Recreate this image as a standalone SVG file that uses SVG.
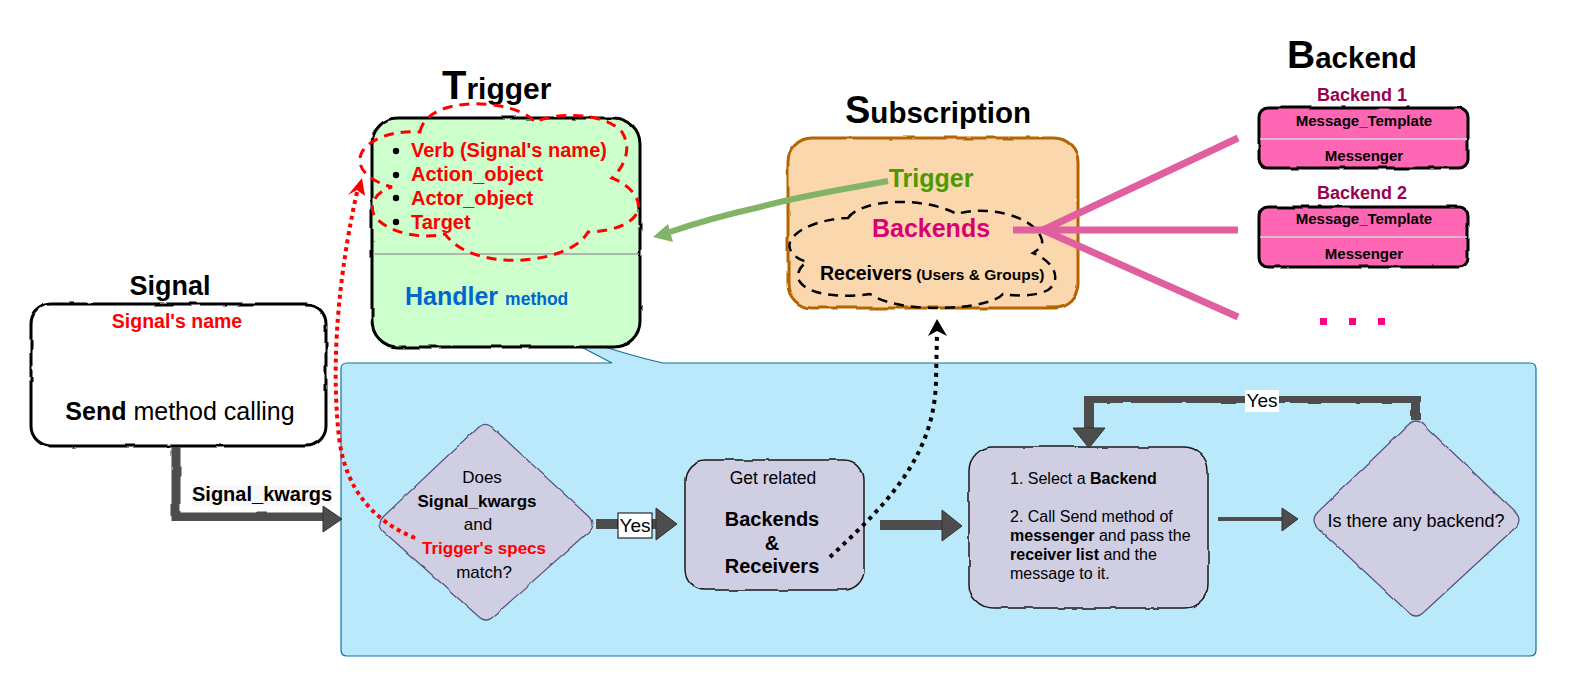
<svg xmlns="http://www.w3.org/2000/svg" width="1573" height="689" viewBox="0 0 1573 689">
<style>
text{font-family:"Liberation Sans",Arial,sans-serif}
.b{font-weight:bold}
.title{font-weight:bold;fill:#000}
.box{stroke:#000;stroke-width:3}
.proc{fill:#d0cee2;stroke:#1a1a1a;stroke-width:1.5}
.dia{fill:#d0cee2;stroke:#56517e;stroke-width:1.2}
.darr{fill:#4d4d4d;stroke:#333;stroke-width:1}
.dline{fill:none;stroke:#4d4d4d}
.red{fill:#ff0000}
.pink{stroke:#df5f9f;stroke-width:7;fill:none}
</style>
<defs>
<filter id="rough" x="-5%" y="-5%" width="110%" height="110%">
<feTurbulence type="fractalNoise" baseFrequency="0.05" numOctaves="2" seed="4"/>
<feDisplacementMap in="SourceGraphic" scale="3" xChannelSelector="R" yChannelSelector="G"/>
</filter>
</defs>
<rect width="1573" height="689" fill="#fff"/>

<g id="region">
<path d="M347,363 L612,363 L545,328 Q630,356 663,363 L1530,363 Q1536,363 1536,369 L1536,650 Q1536,656 1530,656 L347,656 Q341,656 341,650 L341,369 Q341,363 347,363 Z" fill="#bbe9fc" stroke="#10739e" stroke-width="1.2"/>
</g>

<g id="trigger">
<text x="442" y="99" class="title"><tspan font-size="40">T</tspan><tspan font-size="30">rigger</tspan></text>
<rect x="372" y="118" width="268" height="229" rx="26" fill="#ccffcc" class="box" filter="url(#rough)"/>
<line x1="373" y1="254" x2="639" y2="254" stroke="#a0a0a0" stroke-width="1.5"/>
<g font-size="20" class="b red">
<text x="411" y="157">Verb (Signal's name)</text>
<text x="411" y="181">Action_object</text>
<text x="411" y="205">Actor_object</text>
<text x="411" y="229">Target</text>
</g>
<circle cx="396" cy="151" r="3.2"/><circle cx="396" cy="175" r="3.2"/><circle cx="396" cy="198" r="3.2"/><circle cx="396" cy="222" r="3.2"/>
<path d="M420,132 C425,105 470,100 500,106 C520,110 530,116 535,122 C555,112 605,112 622,132 C632,148 625,166 612,178 C632,186 645,202 635,216 C625,229 600,232 588,232 C575,255 530,262 505,260 C475,258 455,248 445,234 C420,240 385,232 374,215 C368,201 380,190 392,187 C365,180 355,165 362,152 C370,138 395,130 420,132 Z" fill="none" stroke="#ff0000" stroke-width="3" stroke-dasharray="10 7"/>
<text x="405" y="305" fill="#0066cc" class="b"><tspan font-size="25">Handler</tspan><tspan font-size="17.5" dx="7">method</tspan></text>
</g>

<g id="subscription">
<text x="845" y="123" class="title"><tspan font-size="38">S</tspan><tspan font-size="29.5">ubscription</tspan></text>
<rect x="788" y="138" width="290" height="170" rx="24" fill="#fad7ac" stroke="#b46504" stroke-width="3" filter="url(#rough)"/>
<text x="931" y="187" font-size="25" class="b" fill="#4d9900" text-anchor="middle">Trigger</text>
<path d="M848,218 C860,200 920,195 957,214 C985,205 1035,215 1042,240 C1043,246 1038,250 1033,253 C1055,262 1062,280 1048,290 C1035,297 1015,296 1003,294 C990,310 900,315 870,294 C845,298 810,296 800,282 C795,275 800,266 807,262 C790,257 784,245 795,235 C805,225 830,218 848,218 Z" fill="none" stroke="#000" stroke-width="2.5" stroke-dasharray="10 7"/>
<text x="931" y="237" font-size="25" class="b" fill="#d80073" text-anchor="middle">Backends</text>
<text x="820" y="280" class="b" fill="#000"><tspan font-size="19.5">Receivers</tspan><tspan font-size="15.5" dx="4">(Users &amp; Groups)</tspan></text>
</g>

<g id="backend">
<text x="1287" y="68" class="title"><tspan font-size="39">B</tspan><tspan font-size="29.5">ackend</tspan></text>
<text x="1362" y="101" font-size="18" class="b" fill="#99004d" text-anchor="middle">Backend 1</text>
<rect x="1259" y="108" width="209" height="60" rx="9" fill="#ff66b3" class="box" filter="url(#rough)"/>
<line x1="1260" y1="139" x2="1467" y2="139" stroke="#d9d9d9" stroke-width="1.5"/>
<text x="1364" y="126" font-size="15" class="b" text-anchor="middle">Message_Template</text>
<text x="1364" y="161" font-size="15" class="b" text-anchor="middle">Messenger</text>
<text x="1362" y="199" font-size="18" class="b" fill="#99004d" text-anchor="middle">Backend 2</text>
<rect x="1259" y="207" width="209" height="60" rx="9" fill="#ff66b3" class="box" filter="url(#rough)"/>
<line x1="1260" y1="237" x2="1467" y2="237" stroke="#d9d9d9" stroke-width="1.5"/>
<text x="1364" y="224" font-size="15" class="b" text-anchor="middle">Message_Template</text>
<text x="1364" y="259" font-size="15" class="b" text-anchor="middle">Messenger</text>
<rect x="1320" y="318" width="7" height="7" fill="#ff0080"/>
<rect x="1349" y="318" width="7" height="7" fill="#ff0080"/>
<rect x="1378" y="318" width="7" height="7" fill="#ff0080"/>
</g>

<g id="signal">
<text x="170" y="295" font-size="27" class="title" text-anchor="middle">Signal</text>
<rect x="31" y="304" width="295" height="142" rx="20" fill="#fff" class="box" filter="url(#rough)"/>
<text x="177" y="328" font-size="19.5" class="b red" text-anchor="middle">Signal's name</text>
<text x="180" y="420" font-size="25" text-anchor="middle"><tspan class="b">Send</tspan> method calling</text>
</g>

<g id="match">
<path d="M478,427 Q486,421 494,429 L588,516 Q596,524 588,532 L494,616 Q486,624 478,616 L384,532 Q376,524 384,516 Z" class="dia" filter="url(#rough)"/>
<g font-size="17" text-anchor="middle">
<text x="482" y="483">Does</text>
<text x="477" y="507" class="b">Signal_kwargs</text>
<text x="478" y="530">and</text>
<text x="484" y="554" class="b red">Trigger's specs</text>
<text x="484" y="578">match?</text>
</g>
</g>

<g id="related">
<rect x="685" y="460" width="179" height="130" rx="20" class="proc" filter="url(#rough)"/>
<text x="773" y="484" font-size="17.5" text-anchor="middle">Get related</text>
<g font-size="20" class="b" text-anchor="middle">
<text x="772" y="526">Backends</text>
<text x="772" y="550">&amp;</text>
<text x="772" y="573">Receivers</text>
</g>
</g>

<g id="send">
<rect x="969" y="447" width="239" height="161" rx="24" class="proc" filter="url(#rough)"/>
<g font-size="16">
<text x="1010" y="484">1. Select a <tspan class="b">Backend</tspan></text>
<text x="1010" y="522">2. Call Send method of</text>
<text x="1010" y="541"><tspan class="b">messenger</tspan> and pass the</text>
<text x="1010" y="560"><tspan class="b">receiver list</tspan> and the</text>
<text x="1010" y="579">message to it.</text>
</g>
</g>

<g id="anybackend">
<path d="M1408,425 Q1416,417 1424,425 L1515,512 Q1523,520 1515,528 L1424,612 Q1416,620 1408,612 L1318,528 Q1310,520 1318,512 Z" class="dia" filter="url(#rough)"/>
<text x="1416" y="527" font-size="18" text-anchor="middle">Is there any backend?</text>
</g>

<g id="connectors">
<path d="M176,447 L176,517 L325,517" class="dline" stroke-width="9" filter="url(#rough)"/>
<polygon points="323,506 342,519 323,532" class="darr"/>
<rect x="192" y="485" width="140" height="21" fill="#f6f8fa"/>
<text x="192" y="501" font-size="20" class="b">Signal_kwargs</text>
<line x1="596" y1="524" x2="658" y2="524" stroke="#4d4d4d" stroke-width="10"/>
<polygon points="656,508 677,524 656,540" class="darr"/>
<rect x="618" y="513" width="34" height="25" fill="#fff" stroke="#000" stroke-width="1"/>
<text x="635" y="532" font-size="19" text-anchor="middle">Yes</text>
<line x1="880" y1="525" x2="944" y2="525" stroke="#4d4d4d" stroke-width="10"/>
<polygon points="942,510 962,526 942,541" class="darr"/>
<line x1="1218" y1="519" x2="1284" y2="519" stroke="#4d4d4d" stroke-width="4"/>
<polygon points="1282,508 1298,519 1282,531" class="darr"/>
<path d="M1416,420 L1416,398 L1089,398 L1089,431" class="dline" stroke-width="10" filter="url(#rough)"/>
<polygon points="1073,428 1105,428 1089,448" class="darr"/>
<rect x="1245" y="390" width="34" height="22" fill="#fff"/>
<text x="1262" y="407" font-size="19" text-anchor="middle">Yes</text>
<path d="M415,538 C375,522 345,490 339,437 C333,385 333,300 357,192" fill="none" stroke="#ff0000" stroke-width="4" stroke-dasharray="4 4"/>
<polygon points="362,178 348,195 357,190 365,196" fill="#ff0000"/>
<path d="M830,557 C880,510 935,460 936,380 L937,334" fill="none" stroke="#000" stroke-width="4" stroke-dasharray="4 5"/>
<polygon points="937,319 928,336 937,331 947,336" fill="#000"/>
<path d="M888,181 C840,190 800,196 760,207 C720,216 690,225 670,232" fill="none" stroke="#82b366" stroke-width="6"/>
<polygon points="653,237 673,242 668,224" fill="#82b366"/>
<line x1="1013" y1="230" x2="1238" y2="230" class="pink"/>
<line x1="1043" y1="230" x2="1238" y2="138" class="pink"/>
<line x1="1043" y1="230" x2="1238" y2="317" class="pink"/>
</g>
</svg>
